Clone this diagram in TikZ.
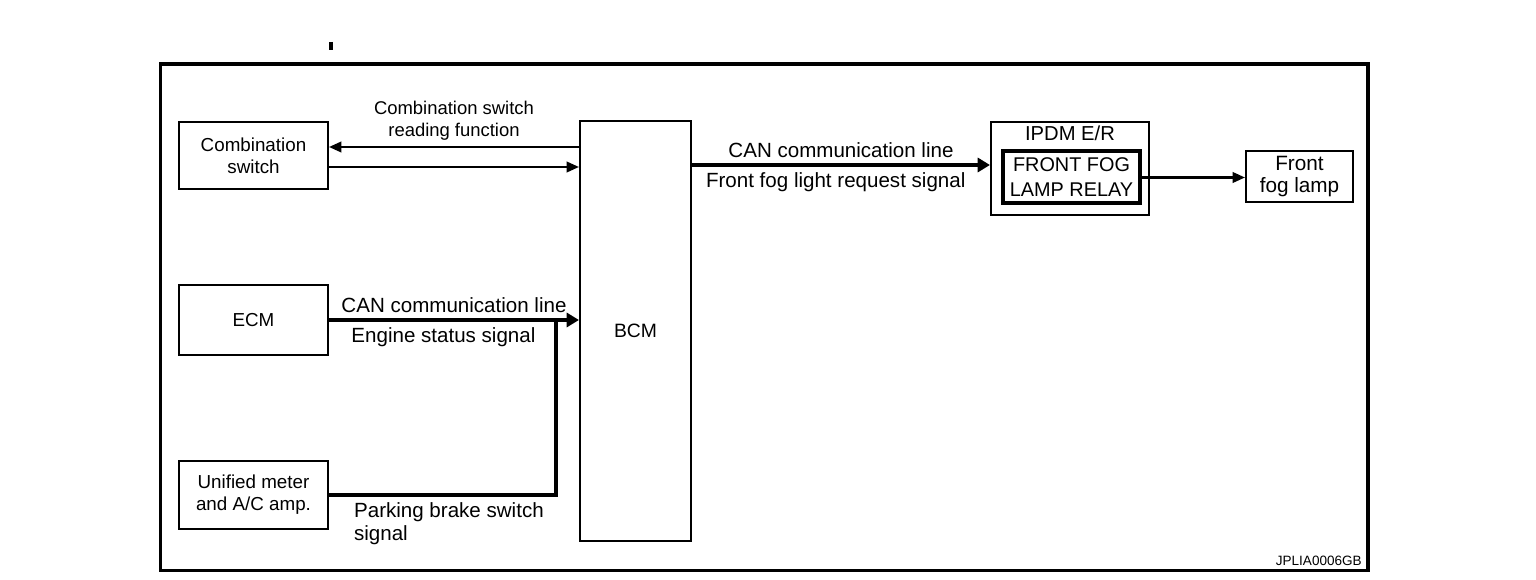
\documentclass[tikz,border=0pt]{standalone}
\usepackage{fontspec}
\setmainfont{Liberation Sans}
\usetikzlibrary{arrows.meta,positioning}

\tikzset{
  box/.style={rectangle,draw,line width=1.2pt,font=\fontsize{10.7}{12.5}\selectfont,align=center,inner sep=0pt},
  lbl/.style={font=\fontsize{11.7}{13.5}\selectfont,align=center,inner sep=1pt},
  sig/.style={line width=1.2pt,-{Triangle[length=7pt,width=6pt]}},
  can/.style={line width=2.8pt,-{Triangle[length=7pt,width=8pt]}},
  frame/.style={line width=2.2pt},
}

\begin{document}
\begin{tikzpicture}[x=0.02cm,y=-0.02cm]
\useasboundingbox (0,0) rectangle (1536,580);
% outer frame
\draw[line width=1.8pt] (331,42) -- (331,50);
\draw[frame] (160.5,64) rectangle (1368,570.5);

% units
\node[box,minimum width=2.98cm,minimum height=1.34cm] (comb) at (253.5,155.5) {Combination\\switch};
\node[box,minimum width=2.98cm,minimum height=1.4cm] (ecm) at (253.5,320) {ECM};
\node[box,minimum width=2.98cm,minimum height=1.36cm] (meter) at (253.5,495) {Unified meter\\and A/C amp.};
\node[box,font=\fontsize{11}{13}\selectfont,minimum width=2.22cm,minimum height=8.4cm] (bcm) at (635.5,331) {BCM};
\node[box,minimum width=3.16cm,minimum height=1.86cm] (ipdm) at (1070,168.5) {};
\node[font=\fontsize{11.5}{13}\selectfont,below=-0.5pt of ipdm.north] (ipdmt) {IPDM E/R};
\node[box,line width=2pt,font=\fontsize{11.3}{14}\selectfont,minimum width=2.74cm,minimum height=1.04cm] (relay) at (1071.5,177) {FRONT FOG\\LAMP RELAY};
\node[box,font=\fontsize{11.8}{13.5}\selectfont,minimum width=2.14cm,minimum height=1.02cm] (lamp) at (1299.5,176.5) {\raisebox{-1.5pt}{Front}\\fog lamp};

% signals
\draw[sig] (bcm.west |- 0,147) -- node[lbl,font=\fontsize{10.5}{12.8}\selectfont,above=2pt] {Combination switch\\reading function} (comb.east |- 0,147);
\draw[sig] (comb.east |- 0,167) -- (bcm.west |- 0,167);
\draw[can] (ecm.east) -- node[lbl,above=2pt] {CAN communication line} node[lbl,below=2pt,xshift=-6pt] {Engine status signal} (bcm.west |- ecm.east);
\coordinate (jn) at (556,320);
\draw[line width=2.8pt] (meter.east |- 0,495) -| (jn);
\node[lbl,align=left,anchor=north west] (park) at (352,500) {Parking brake switch\\signal};
\draw[can] (bcm.east |- 0,165) -- node[lbl,above=2pt] {CAN communication line} node[lbl,below=2pt,xshift=-3pt] {Front fog light request signal} (ipdm.west |- 0,165);
\draw[sig] (relay.east |- 0,177.5) -- (lamp.west |- 0,177.5);

\node[font=\fontsize{7.7}{9}\selectfont,anchor=south east,inner sep=0pt] (code) at (1362,566) {JPLIA0006GB};
\end{tikzpicture}
\end{document}
